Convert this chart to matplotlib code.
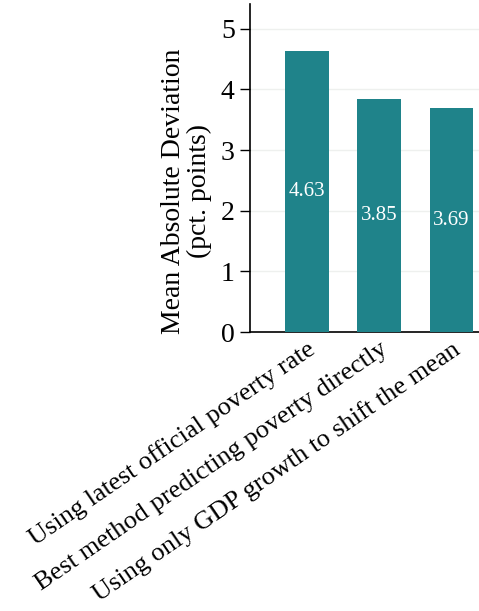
import matplotlib
matplotlib.use("Agg")
import matplotlib.pyplot as plt

methods = ["Using latest official poverty rate",
           "Best method predicting poverty directly",
           "Using only GDP growth to shift the mean"]
mad = [4.63, 3.85, 3.69]
yticks = [0, 1, 2, 3, 4, 5]

plt.rcParams["font.family"] = ["Liberation Serif", "DejaVu Serif"]

fig = plt.figure(figsize=(4.79, 6.11), dpi=100)
ax = fig.add_axes([250 / 479, 1 - 332 / 611, 1 - 250 / 479, 328 / 611])

x = list(range(len(mad)))
bars = ax.bar(x, mad, width=0.6, color="#1f838a", zorder=3)
for xi, v in zip(x, mad):
    ax.text(xi, v / 2, "%.2f" % v, ha="center", va="center",
            color="white", fontsize=15, zorder=4)

ax.set_xlim(-0.785, 2.38)
ax.set_ylim(0, 5.41)
ax.set_yticks(yticks)
ax.set_yticklabels([str(t) for t in yticks], fontsize=20)
ax.yaxis.grid(True, color="#eef0ee", lw=1.0, zorder=0)
ax.set_ylabel("Mean Absolute Deviation\n(pct. points)", fontsize=20,
              linespacing=1.05)
ax.yaxis.set_label_coords(-0.165, 0.43)
ax.set_xticks(x)
ax.set_xticklabels(methods, rotation=34.5, ha="right", rotation_mode="anchor",
                   fontsize=19)
ax.tick_params(axis="x", length=0, pad=4)
ax.tick_params(axis="y", length=7, width=1, pad=4)
for s in ("top", "right"):
    ax.spines[s].set_visible(False)
ax.spines["left"].set_linewidth(1.2)
ax.spines["bottom"].set_linewidth(1.2)

fig.savefig("out.png", dpi=100)
